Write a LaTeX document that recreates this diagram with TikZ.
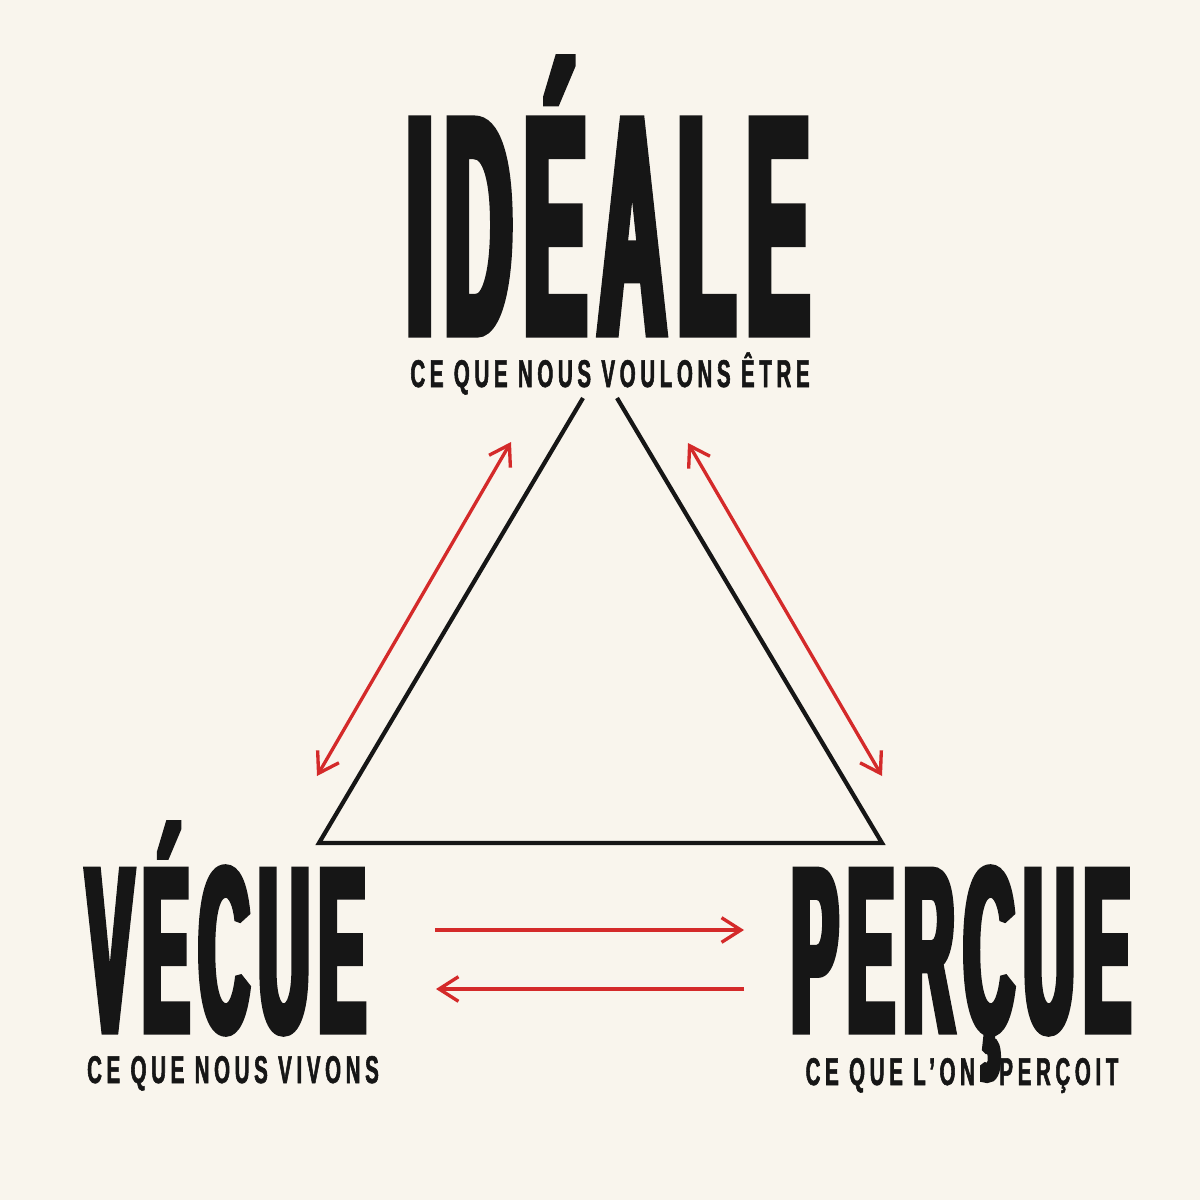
\documentclass[tikz,border=0pt]{standalone}
\usepackage{fontspec}
\usetikzlibrary{arrows.meta}

\newfontface\titlefont{Liberation Sans Bold}[FakeStretch=0.30,FakeBold=3,LetterSpace=4]
\newfontface\subfont{Liberation Sans Bold}[FakeStretch=0.53,FakeBold=1.4,LetterSpace=12]

\definecolor{paper}{HTML}{F9F5ED}
\definecolor{ink}{HTML}{161616}
\definecolor{arrowred}{HTML}{D42A2A}

\begin{document}
\begin{tikzpicture}[x=0.01cm,y=-0.01cm,
  title/.style={text=ink,inner sep=0pt,anchor=base,line join=miter,miter limit=1.6},
  subtitle/.style={text=ink,inner sep=0pt,anchor=base,line join=miter,miter limit=1.6,font=\subfont\fontsize{11}{11}\selectfont},
  side/.style={draw=ink,line width=1.2pt,line join=miter},
  link/.style={draw=arrowred,line width=0.95pt,-{Straight Barb[length=5.5pt,width=7pt]}},
  both/.style={link,{Straight Barb[length=5.5pt,width=7pt]}-{Straight Barb[length=5.5pt,width=7pt]}}]

% Background
\fill[paper] (0,0) rectangle (1200,1200);
\useasboundingbox (0,0) rectangle (1200,1200);

% Titles and their lines
\node[title] (ideale) at (608,333) {\titlefont\fontsize{88}{88}\selectfont IDÉALE};
\node[subtitle] (idealesub) at (610,387) {CE QUE NOUS VOULONS ÊTRE};
\node[title] (vecue) at (226,1031) {\titlefont\fontsize{66.5}{66.5}\selectfont VÉCUE};
\node[subtitle] (vecuesub) at (233,1083) {CE QUE NOUS VIVONS};
\node[title] (percue) at (961,1031) {\titlefont\fontsize{66.5}{66.5}\selectfont PERÇUE};
\node[subtitle] (percuesub) at (962,1085) {CE QUE L’ON\hspace{4pt} PERÇOIT};

% Triangle corners
\coordinate (topL) at (583,398);
\coordinate (topR) at (617,398);
\coordinate (botL) at (319,843);
\coordinate (botR) at (882,843);

% Draw triangle, open at the top
\draw[side] (topL) -- (botL) -- (botR) -- (topR);

% Arrow ends
\coordinate (leftA) at (511,442);
\coordinate (leftB) at (317,776);
\coordinate (rightA) at (688,443);
\coordinate (rightB) at (882,776);
\coordinate (upperA) at (435,930);
\coordinate (upperB) at (744,930);
\coordinate (lowerA) at (744,989);
\coordinate (lowerB) at (436,989);

% Draw red arrows
\draw[both] (leftA) -- (leftB);
\draw[both] (rightA) -- (rightB);
\draw[link] (upperA) -- (upperB);
\draw[link] (lowerA) -- (lowerB);

\end{tikzpicture}
\end{document}
